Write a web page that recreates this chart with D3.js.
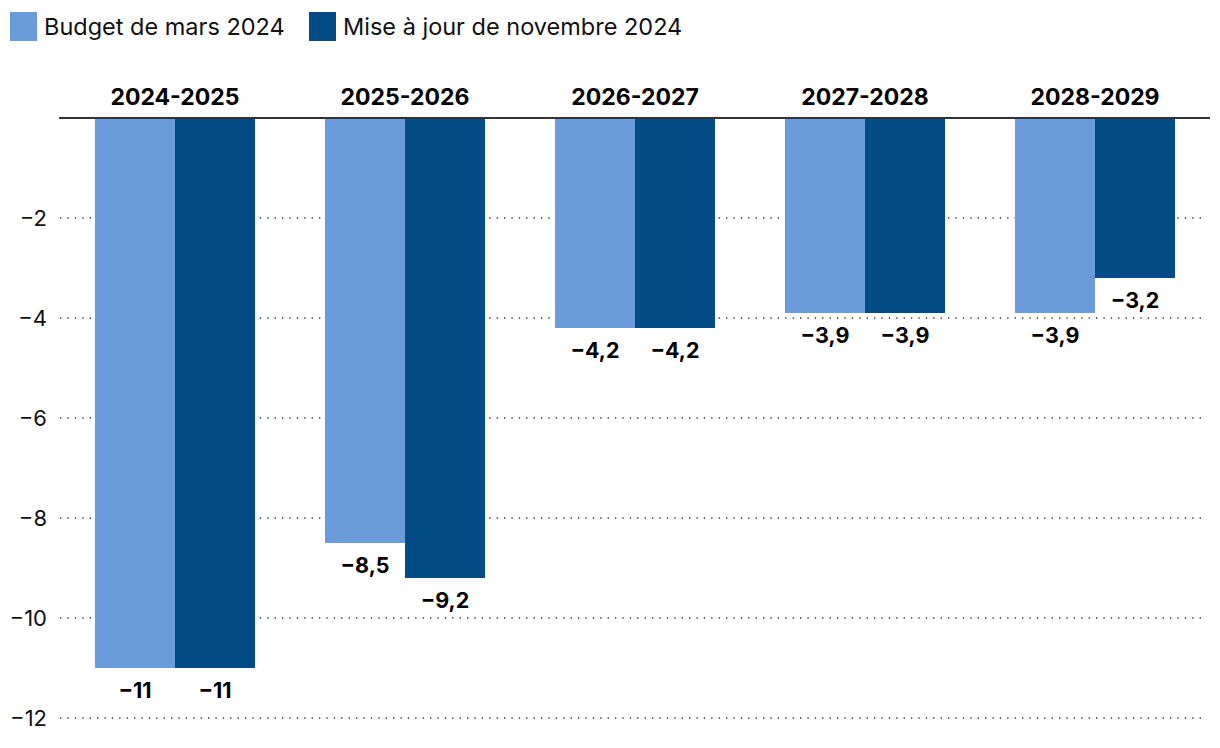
<!DOCTYPE html>
<html><head><meta charset="utf-8">
<script src="https://cdn.jsdelivr.net/npm/d3@7"></script>
<style>
body{margin:0;background:#fff;}
svg{display:block;font-family:Inter, "Noto Sans", sans-serif;}
</style></head><body>
<svg id="chart" width="1220" height="748"></svg>
<script>
const categories = ["2024-2025","2025-2026","2026-2027","2027-2028","2028-2029"];
const seriesNames = ["Budget de mars 2024","Mise à jour de novembre 2024"];
const budgetMars = [-11, -8.5, -4.2, -3.9, -3.9];
const majNovembre = [-11, -9.2, -4.2, -3.9, -3.2];
const yTicks = [-2, -4, -6, -8, -10, -12];
const colors = ["#6a9bdb", "#034b87"];

const svg = d3.select("#chart");
const mLeft = 60, mRight = 1210, mTop = 118, mBottom = 718;

const x = d3.scaleBand().domain(categories).range([mLeft, mRight]).paddingInner(0.304).paddingOuter(0.152);
const xs = d3.scaleBand().domain([0,1]).range([0, x.bandwidth()]);
const y = d3.scaleLinear().domain([0, -12]).range([mTop, mBottom]);

const fmt = v => (v < 0 ? "\u2212" : "") + String(Math.abs(v)).replace(".", ",");

// gridlines
svg.append("g").selectAll("line").data(yTicks).join("line")
  .attr("x1", mLeft).attr("x2", 1206)
  .attr("y1", d => y(d)).attr("y2", d => y(d))
  .attr("stroke", "#333").attr("stroke-width", 1.3)
  .attr("stroke-dasharray", "1.3,6.1").attr("stroke-linecap", "butt");

// y labels
svg.append("g").selectAll("text").data(yTicks).join("text")
  .attr("x", 47).attr("y", d => y(d)).attr("dy", "0.35em")
  .attr("text-anchor", "end").attr("font-size", 22).attr("fill", "#111")
  .text(d => fmt(d));

const data = categories.map((c, i) => ({c, vals: [budgetMars[i], majNovembre[i]]}));

const g = svg.append("g").selectAll("g").data(data).join("g")
  .attr("transform", d => `translate(${x(d.c)},0)`);

g.selectAll("rect").data(d => d.vals.map((v, k) => ({v, k}))).join("rect")
  .attr("x", d => xs(d.k)).attr("width", xs.bandwidth())
  .attr("y", y(0)).attr("height", d => y(d.v) - y(0))
  .attr("fill", d => colors[d.k]);

g.selectAll("text.val").data(d => d.vals.map((v, k) => ({v, k}))).join("text")
  .attr("class", "val")
  .attr("x", d => xs(d.k) + xs.bandwidth() / 2)
  .attr("y", d => y(d.v) + 30)
  .attr("text-anchor", "middle").attr("font-size", 21.5).attr("font-weight", 700).attr("fill", "#000")
  .text(d => fmt(d.v));

// category labels
svg.append("g").selectAll("text").data(categories).join("text")
  .attr("x", d => x(d) + x.bandwidth() / 2).attr("y", 105)
  .attr("text-anchor", "middle").attr("font-size", 23).attr("font-weight", 700).attr("fill", "#000")
  .text(d => d);

// zero line
svg.append("line").attr("x1", mLeft - 1).attr("x2", mRight).attr("y1", y(0)).attr("y2", y(0))
  .attr("stroke", "#333").attr("stroke-width", 2.2);

// legend
const legendX = [10, 309];
const lg = svg.append("g").selectAll("g").data(seriesNames).join("g")
  .attr("transform", (d, i) => `translate(${legendX[i]},12)`);
lg.append("rect").attr("width", 27).attr("height", 29).attr("fill", (d, i) => colors[i]);
lg.append("text").attr("x", 34).attr("y", 22.5).attr("font-size", 23.5).attr("fill", "#111").text(d => d);
</script>
</body></html>
